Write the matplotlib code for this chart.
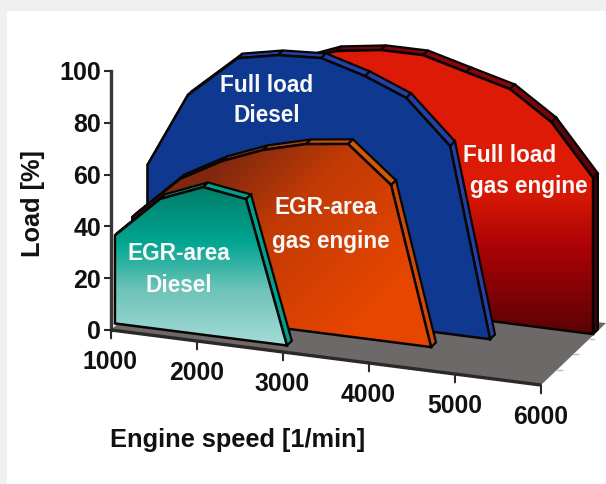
import numpy as np
import matplotlib
matplotlib.use("Agg")
import matplotlib.pyplot as plt
from matplotlib.patches import Polygon, Rectangle
from matplotlib.colors import LinearSegmentedColormap

plt.rcParams['font.family'] = ['Liberation Sans', 'DejaVu Sans']
plt.rcParams['font.weight'] = 'bold'

W, H = 606, 484

# front face outline of each map: engine speed [1/min], load [%]
speed_red = [2500, 3000, 3520, 4010, 4510, 5020, 5500, 5985, 5985, 2500]
load_red = [90, 96.6, 99.2, 99.3, 94.9, 90.5, 79.8, 60.3, 0, 0]
speed_blue = [1000, 1470, 2050, 2520, 3020, 3530, 4010, 4520, 4985, 1000]
load_blue = [50.3, 79.3, 96, 99.2, 100.2, 95.4, 89, 72.6, 0, 0]
speed_orange = [990, 1545, 2035, 2510, 3010, 3500, 4000, 4465, 990]
load_orange = [35.4, 52.5, 61.5, 67.8, 72.2, 74.3, 60.6, 0, 0]
speed_teal = [970, 1495, 1995, 2495, 2970, 970]
load_teal = [34, 50.3, 57, 54.5, 0, 0]

# position of each map along the depth axis of the floor
depth_red = 0.82
depth_blue = 0.56
depth_orange = 0.34
depth_teal = 0.10
thick = 0.075

speed_ticks = [1000, 2000, 3000, 4000, 5000, 6000]
load_ticks = [0, 20, 40, 60, 80, 100]


def proj(s, l, d):
    # oblique projection of speed/load/depth on the flat axes
    s = np.asarray(s, dtype=float)
    l = np.asarray(l, dtype=float)
    return s + 756*d, l - 0.00425*(s-1000) + 23.9*d


fig = plt.figure(figsize=(W/100, H/100), dpi=100, facecolor='#f0f0f0')
fig.patches.append(Rectangle((7/W, 0), 1, 1-11/H, transform=fig.transFigure,
                             facecolor='white', edgecolor='none', zorder=-5))
ax = fig.add_axes([0, 0, 1, 1])
ax.patch.set_visible(False)
xlim = (-291, 6756)
ylim = (-59.46, 127.4)

# pixel grid for the gradient fills
px, py = np.meshgrid(np.arange(W)+0.5, np.arange(H)+0.5)


def draw_map(speed, load, d, z, t, stops, top_col, side_col):
    x0, y0 = proj(speed, load, d)
    x1, y1 = proj(speed, load, d+thick)
    n = len(speed)
    last = n-2  # top edges stop at the lower right corner
    for i in range(last):
        col = side_col if i == last-1 else top_col
        if isinstance(top_col, list):
            col = top_col[i]
        pts = [(x0[i], y0[i]), (x0[i+1], y0[i+1]), (x1[i+1], y1[i+1]), (x1[i], y1[i])]
        ax.add_patch(Polygon(pts, closed=True, facecolor=col, edgecolor='#0a0505', lw=1.6, zorder=z))
    outline = Polygon(np.column_stack((x0, y0)), closed=True, facecolor='none',
                      edgecolor='#0a0505', lw=1.8, zorder=z+2)
    ax.add_patch(outline)
    cmap = LinearSegmentedColormap.from_list('g', stops)
    im = ax.imshow(cmap(np.clip(t, 0, 1)), extent=(xlim[0], xlim[1], ylim[0], ylim[1]),
                   aspect='auto', origin='upper', zorder=z+1)
    im.set_clip_path(Polygon(np.column_stack((x0, y0)), closed=True, transform=ax.transData))


# floor
fx, fy = proj([1000, 6000, 6000, 1000], [0, 0, 0, 0], np.array([0, 0, 1, 1]))
ax.add_patch(Polygon(np.column_stack((fx, fy)), closed=True, facecolor='#6e6969',
                     edgecolor='none', zorder=1))
for d in [0.25, 0.5, 0.75]:
    ex, ey = proj(6000, 0, d)
    ax.plot([ex, ex+50], [ey, ey], color='#bdbdbd', lw=1.0, zorder=1)

red_top = ['#5a060a', '#6e060c', '#7a060c', '#8a060c', '#8a060c', '#7a060c', '#5a060a', '#3a060a']
draw_map(speed_red, load_red, depth_red, 10, (py-178)/156,
         [(0, '#dc1a05'), (0.1, '#d81805'), (0.45, '#aa0205'), (1, '#5a0306')], red_top, '#3a060a')
draw_map(speed_blue, load_blue, depth_blue, 20, 0*py,
         [(0, '#0f3991'), (1, '#0f3991')], '#2340a5', '#2340a5')
orange_top = ['#7a2a0c', '#8a300c', '#9a3a0c', '#a8420c', '#c0500c', '#d05808', '#d04a05']
draw_map(speed_orange, load_orange, depth_orange, 30, (px+py-380)/300,
         [(0, '#7d280f'), (0.4, '#c23a05'), (1, '#e64600')], orange_top, '#d04a05')
draw_map(speed_teal, load_teal, depth_teal, 40, (py-187)/158,
         [(0, '#007d69'), (0.35, '#00a591'), (0.65, '#6ec3b9'), (1, '#a5dcd7')],
         '#00a08c', '#00a08c')

# speed axis is skewed so it is drawn by hand
ax_x, ax_y = proj([1000, 6000], [0, 0], 0)
ax.plot(ax_x, ax_y, color='#2d2828', lw=2.4, zorder=50, solid_capstyle='butt')
for s in speed_ticks:
    tx, ty = proj(s, 0, 0)
    ax.annotate('', xy=(tx, ty), xytext=(0, -6), textcoords='offset points',
                arrowprops=dict(arrowstyle='-', color='#2d2828', lw=1.5, shrinkA=0, shrinkB=0))
    ax.annotate(str(s), xy=(tx, ty), xytext=(-0.5, -23), textcoords='offset points',
                ha='center', va='center', fontsize=17.8, color='#111111')

ax.set_xlim(xlim)
ax.set_ylim(ylim)
ax.set_xticks([])
ax.set_yticks(load_ticks)
ax.tick_params(axis='y', length=5, width=1.5, color='#2d2828', pad=2, labelsize=18, labelcolor='#111111')
for name in ['top', 'right', 'bottom']:
    ax.spines[name].set_visible(False)
ax.spines['left'].set_position(('data', 1000))
ax.spines['left'].set_bounds(0, 100)
ax.spines['left'].set_color('#3c3737')
ax.spines['left'].set_linewidth(2.4)


def label(x, y, s, **kw):
    fig.text(x/W, 1-y/H, s, ha='center', va='center', zorder=100, **kw)


label(238, 440, 'Engine speed [1/min]', fontsize=18.3, color='#111111')
label(33, 204, 'Load [%]', fontsize=18.3, rotation=90, color='#111111')
white = dict(fontsize=16.3, color='#f8f8f8')
label(267, 85, 'Full load', **white)
label(267, 116, 'Diesel', **white)
label(510, 155, 'Full load', **white)
label(529, 187, 'gas engine', **white)
label(326, 208, 'EGR-area', **white)
label(331, 241, 'gas engine', **white)
label(179, 254, 'EGR-area', **white)
label(179, 285, 'Diesel', **white)

fig.savefig('out.png', dpi=100, facecolor=fig.get_facecolor())
